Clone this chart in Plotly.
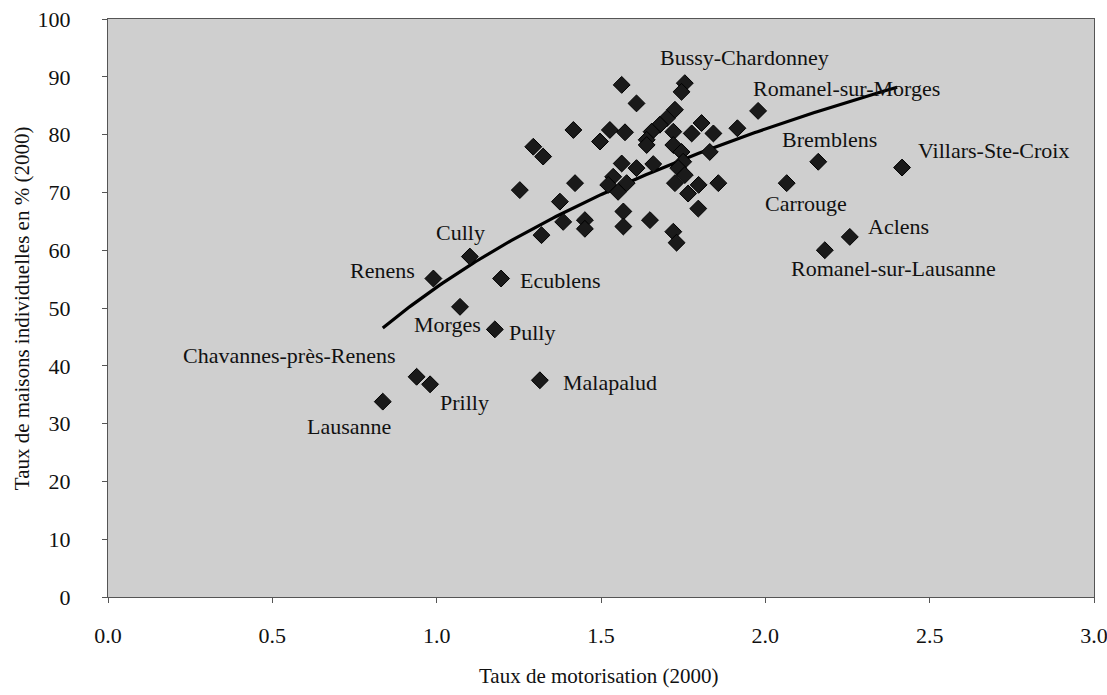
import numpy as np
import plotly.graph_objects as go

# --- data ---
motorisation = [
    1.563, 1.755, 1.745, 1.608, 1.978, 1.416, 1.527, 1.573, 1.497, 1.294,
    1.324, 1.725, 1.700, 1.679, 1.654, 1.639, 1.639, 1.720, 1.720, 1.745,
    1.806, 1.776, 1.842, 1.915, 1.831, 1.563, 1.608, 1.659, 1.750, 1.735,
    1.755, 1.537, 1.578, 1.522, 1.552, 1.421, 1.253, 1.725, 1.797, 1.857,
    1.765, 1.796, 1.375, 1.385, 1.451, 1.451, 1.319, 1.568, 1.568, 1.649,
    1.720, 1.730,
    1.196, 1.101, 0.990, 1.071, 1.177, 0.939, 0.980, 1.314, 0.836,
    2.161, 2.416, 2.065, 2.257, 2.181,
]
maisons = [
    88.6, 88.9, 87.4, 85.4, 84.1, 80.8, 80.8, 80.4, 78.8, 77.9,
    76.2, 84.3, 82.8, 81.7, 80.5, 79.1, 78.2, 80.5, 78.2, 77.0,
    82.0, 80.2, 80.2, 81.1, 77.0, 75.0, 74.2, 74.9, 75.3, 74.2,
    73.0, 72.7, 71.6, 71.3, 70.1, 71.6, 70.4, 71.6, 71.3, 71.6,
    69.8, 67.2, 68.4, 64.9, 65.2, 63.7, 62.6, 66.7, 64.1, 65.2,
    63.2, 61.3,
    55.1, 58.9, 55.1, 50.2, 46.3, 38.1, 36.8, 37.5, 33.8,
    75.3, 74.3, 71.6, 62.3, 60.0,
]
communes = [""] * 66
named = {
    1: "Bussy-Chardonney", 4: "Romanel-sur-Morges",
    52: "Ecublens", 53: "Cully", 54: "Renens", 55: "Morges", 56: "Pully",
    57: "Chavannes-près-Renens", 58: "Prilly", 59: "Malapalud", 60: "Lausanne",
    61: "Bremblens", 62: "Villars-Ste-Croix", 63: "Carrouge", 64: "Aclens",
    65: "Romanel-sur-Lausanne",
}
for i, n in named.items():
    communes[i] = n

# logarithmic trend line y = a + b*ln(x), coefficients
trend_a = 53.6
trend_b = 39.5

x_ticks = [0.0, 0.5, 1.0, 1.5, 2.0, 2.5, 3.0]
y_ticks = [0, 10, 20, 30, 40, 50, 60, 70, 80, 90, 100]

x_title = "Taux de motorisation (2000)"
y_title = "Taux de maisons individuelles en % (2000)"

# label offsets in pixels (style, not data)
label_shift = {
    "Bussy-Chardonney": (60, 26), "Romanel-sur-Morges": (88, 22),
    "Bremblens": (11, 22), "Villars-Ste-Croix": (91, 17),
    "Carrouge": (19, -20), "Aclens": (49, 10),
    "Romanel-sur-Lausanne": (69, -18), "Cully": (-9, 24),
    "Renens": (-51, 8), "Ecublens": (59, -2), "Morges": (-13, -18),
    "Pully": (37, -3), "Chavannes-près-Renens": (-127, 21),
    "Prilly": (34, -18), "Malapalud": (70, -2), "Lausanne": (-34, -25),
}

FONT = "Liberation Serif"
TXT = "#111"

fig = go.Figure()

xt = np.linspace(min(motorisation), max(motorisation) - 0.015, 200)
fig.add_trace(go.Scatter(
    x=xt, y=trend_a + trend_b * np.log(xt), mode="lines",
    line=dict(color="black", width=3.2), hoverinfo="skip", showlegend=False,
))
fig.add_trace(go.Scatter(
    x=motorisation, y=maisons, mode="markers",
    marker=dict(symbol="diamond", size=13, color="#1a1a1a",
                line=dict(color="black", width=1)),
    showlegend=False,
))

for x, y, name in zip(motorisation, maisons, communes):
    if not name:
        continue
    dx, dy = label_shift[name]
    fig.add_annotation(x=x, y=y, text=name, showarrow=False,
                       xshift=dx, yshift=dy, xanchor="center", yanchor="middle",
                       font=dict(family=FONT, size=22, color=TXT))

fig.add_annotation(xref="paper", yref="paper", x=0.497, y=-0.137, text=x_title,
                   showarrow=False, xanchor="center", yanchor="middle",
                   font=dict(family=FONT, size=21, color=TXT))
fig.add_annotation(xref="paper", yref="paper", x=-0.087, y=0.5, text=y_title,
                   showarrow=False, xanchor="center", yanchor="middle", textangle=-90,
                   font=dict(family=FONT, size=21, color=TXT))

axis_common = dict(
    showline=True, linecolor="#555", linewidth=1, mirror=True,
    ticks="outside", ticklen=5, tickcolor="#555", showgrid=False, zeroline=False,
    automargin=False, ticklabeloverflow="allow",
    tickfont=dict(family=FONT, size=22, color=TXT),
)

fig.update_layout(
    width=1107, height=695,
    margin=dict(l=108, r=13, t=19, b=98),
    paper_bgcolor="white", plot_bgcolor="#cfcfcf",
    xaxis=dict(range=[0, 3], tickvals=x_ticks, ticktext=[f"{v:.1f}" for v in x_ticks],
               ticklabelstandoff=14, **axis_common),
    yaxis=dict(range=[0, 100], tickvals=y_ticks, ticklabelstandoff=27,
               **axis_common),
)

# remove the default page margin so the figure fills the window exactly
fig.write_html("out.html",
               config={"displayModeBar": False},
               post_script="document.body.style.margin='0';"
                           "document.body.style.overflow='hidden';")
